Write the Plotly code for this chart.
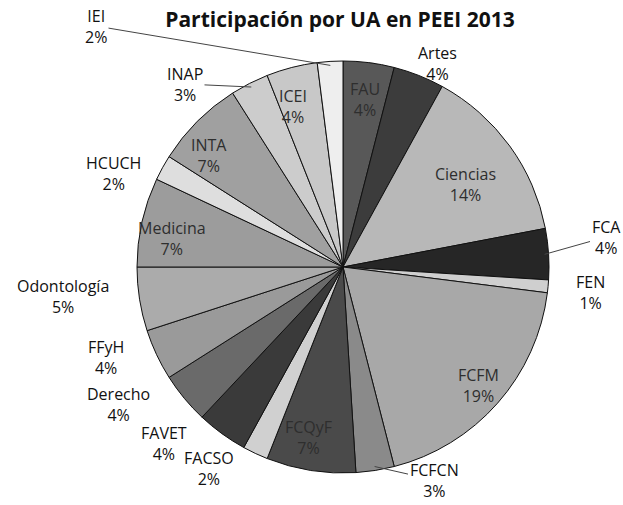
import math
import plotly.graph_objects as go

units = ["FAU", "Artes", "Ciencias", "FCA", "FEN", "FCFM", "FCFCN", "FCQyF", "FACSO",
         "FAVET", "Derecho", "FFyH", "Odontología", "Medicina", "HCUCH", "INTA",
         "INAP", "ICEI", "IEI"]
shares = [4, 4, 14, 4, 1, 19, 3, 7, 2, 4, 4, 4, 5, 7, 2, 7, 3, 4, 2]

# ---- styling / layout (not data) ----
W, H = 623, 505
FONT = "Open Sans"
grays = ["#585858", "#3c3c3c", "#b8b8b8", "#262626", "#cfcfcf", "#a8a8a8", "#8a8a8a",
         "#4a4a4a", "#d0d0d0", "#3a3a3a", "#6a6a6a", "#9a9a9a", "#ababab", "#9c9c9c",
         "#dedede", "#a0a0a0", "#cccccc", "#c8c8c8", "#eeeeee"]
inside_units = {"FAU", "Ciencias", "FCFM", "FCQyF", "Medicina", "INTA", "ICEI"}

# pie placement in pixels
CX, CY, R = 343, 267, 206
dom_x = [(CX - R) / W, (CX + R) / W]
dom_y = [1 - (CY + R) / H, 1 - (CY - R) / H]

# label block centres in pixels, and which labels get a leader line
label_px = {
    "FAU": (365, 100), "Artes": (437, 63), "Ciencias": (465, 184), "FCA": (606, 237),
    "FEN": (590, 292), "FCFM": (478, 385), "FCFCN": (434, 480), "FCQyF": (308, 437),
    "FACSO": (209, 468), "FAVET": (164, 443), "Derecho": (118, 404),
    "FFyH": (106, 357), "Odontología": (63, 296), "Medicina": (172, 238),
    "HCUCH": (113, 173), "INTA": (209, 155), "INAP": (185, 84), "ICEI": (293, 107),
    "IEI": (96, 26),
}
leader = {"IEI", "INAP", "FCA", "FCFCN"}

fig = go.Figure(go.Pie(
    labels=units,
    values=shares,
    textinfo="none",
    sort=False,
    direction="clockwise",
    rotation=0,
    marker=dict(colors=grays, line=dict(color="#111111", width=1)),
    domain=dict(x=dom_x, y=dom_y),
    showlegend=False,
    hoverinfo="label+percent",
))

total = sum(shares)
cum = 0
for u, v in zip(units, shares):
    mid = (cum + v / 2) / total * 2 * math.pi
    cum += v
    tx, ty = label_px[u]
    txt = f"{u}<br>{v}%"
    color = "#2e2e2e" if u in inside_units else "#111111"
    if u in leader:
        # tip of leader line on the slice edge, from the slice's mid angle
        px = CX + (R - 4) * math.sin(mid)
        py = CY - (R - 4) * math.cos(mid)
        fig.add_annotation(
            text=txt, xref="paper", yref="paper", x=px / W, y=1 - py / H,
            ax=tx - px, ay=ty - py, showarrow=True, arrowhead=0, arrowwidth=1,
            arrowcolor="#444444", standoff=0,
            font=dict(size=16, family=FONT, color=color), align="center",
        )
    else:
        fig.add_annotation(
            text=txt, xref="paper", yref="paper", x=tx / W, y=1 - ty / H,
            showarrow=False, xanchor="center", yanchor="middle",
            font=dict(size=16, family=FONT, color=color), align="center",
        )

fig.update_layout(
    width=W, height=H,
    margin=dict(l=0, r=0, t=0, b=0),
    paper_bgcolor="white",
    title=dict(text="<b>Participación por UA en PEEI 2013</b>",
               x=340 / W, xanchor="center", y=1 - 20 / H, yanchor="middle",
               font=dict(size=21, family=FONT, color="#111111")),
)

fig.write_html("out.html", config={"displayModeBar": False},
               post_script="document.body.style.margin='0px';")
